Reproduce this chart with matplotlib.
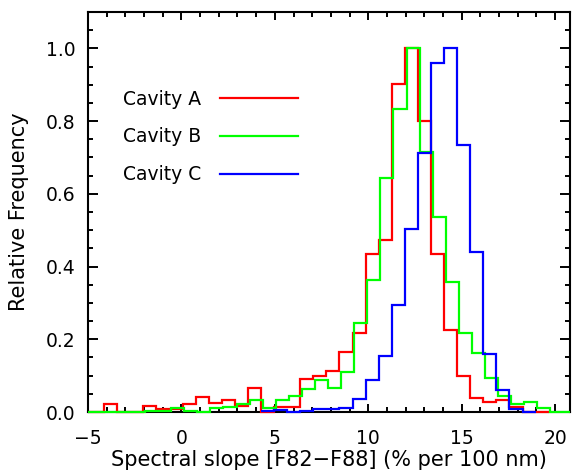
import numpy as np
import matplotlib
matplotlib.use("Agg")
import matplotlib.pyplot as plt
from matplotlib.ticker import MultipleLocator

# ---- data ----
bin_width = 0.70

red_start = -4.84
red_values = [0, 0.023, 0, 0, 0.016, 0.008, 0.008, 0.023, 0.040, 0.024, 0.032,
              0.016, 0.065, 0, 0.015, 0.015, 0.091, 0.098, 0.114, 0.165, 0.216,
              0.435, 0.474, 0.902, 1.0, 0.80, 0.435, 0.225, 0.100, 0.039, 0.028,
              0.034, 0.014, 0, 0]

green_start = -4.75
green_values = [0, 0, 0, 0, 0.003, 0.003, 0.010, 0.003, 0, 0.010, 0.015, 0.021,
                0.033, 0.012, 0.033, 0.044, 0.063, 0.089, 0.066, 0.110, 0.245,
                0.362, 0.643, 0.833, 1.0, 0.715, 0.535, 0.357, 0.218, 0.163,
                0.094, 0.043, 0.023, 0.027, 0.011, 0]

blue_start = 4.26
blue_values = [0.002, 0.005, 0.001, 0.002, 0.007, 0.007, 0.012, 0.037, 0.087,
               0.153, 0.293, 0.504, 0.712, 0.961, 1.0, 0.735, 0.44, 0.160,
               0.060, 0.009, 0]

labels = ["Cavity A", "Cavity B", "Cavity C"]
colors = ["#ff0000", "#00ff00", "#0000ff"]

xlim = (-5, 20.8)
ylim = (0, 1.1)

fig = plt.figure(figsize=(5.78, 4.75), dpi=100)
ax = fig.add_axes([88/578, 63/475, 482/578, 400/475])

def draw(start, values, color, label, pad_left, pad_right):
    vals = list(values)
    edges = list(start + bin_width * np.arange(len(vals) + 1))
    if pad_left:
        edges = [xlim[0]] + edges
        vals = [0] + vals
    if pad_right:
        edges = edges + [xlim[1]]
        vals = vals + [0]
    edges = np.clip(edges, xlim[0], xlim[1])
    ax.stairs(vals, edges, baseline=None, color=color, lw=1.6, label=label,
              zorder=3, clip_on=False)

draw(red_start, red_values, colors[0], labels[0], True, False)
draw(green_start, green_values, colors[1], labels[1], True, True)
draw(blue_start, blue_values, colors[2], labels[2], False, False)

ax.set_xlim(*xlim)
ax.set_ylim(*ylim)
ax.xaxis.set_major_locator(MultipleLocator(5))
ax.xaxis.set_minor_locator(MultipleLocator(1))
ax.yaxis.set_major_locator(MultipleLocator(0.2))
ax.yaxis.set_minor_locator(MultipleLocator(0.05))
ax.yaxis.set_major_formatter(matplotlib.ticker.FormatStrFormatter("%.1f"))

for s in ax.spines.values():
    s.set_linewidth(1.5)

ax.tick_params(axis="both", which="both", direction="in", top=True, right=True,
               width=1.4, labelsize=13.5)
ax.tick_params(axis="x", which="major", length=6, pad=12)
ax.tick_params(axis="y", which="major", length=7.5, pad=9)
ax.tick_params(axis="both", which="minor", length=3.6)

ax.set_xlabel("Spectral slope [F82\u2212F88] (% per 100 nm)", fontsize=15, labelpad=2)
ax.set_ylabel("Relative Frequency", fontsize=15, labelpad=12)

leg = ax.legend(loc="upper left", bbox_to_anchor=(0.072, 0.806), frameon=False,
                markerfirst=False, handlelength=4.2, handletextpad=1.0,
                labelspacing=1.0, borderpad=0, borderaxespad=0, fontsize=13.5)

fig.savefig("out.png", dpi=100)
